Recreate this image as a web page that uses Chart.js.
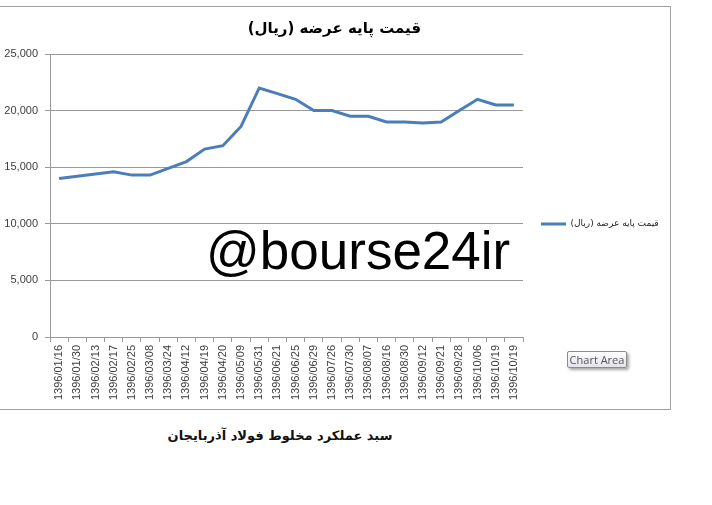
<!DOCTYPE html>
<html>
<head>
<meta charset="utf-8">
<script src="https://cdn.jsdelivr.net/npm/chart.js@4.4.0/dist/chart.umd.min.js"></script>
<style>
  body { margin: 0; background: #fff; width: 712px; height: 505px; overflow: hidden; position: relative; }
  #frame { position: absolute; left: -1px; top: 6px; width: 670px; height: 402px; border: 1px solid #a0a0a0; }
  #tag { position: absolute; left: 206px; top: 221px; font: 53px "Liberation Sans", Arial, sans-serif; line-height: 60px; color: #000; white-space: nowrap; }
  #caption { position: absolute; left: 280px; top: 428px; transform: translateX(-50%); font: bold 13px "DejaVu Sans", sans-serif; direction: rtl; white-space: nowrap; color: #111; }
  #tip { position: absolute; left: 567px; top: 351px; width: 58px; height: 15px; border: 1px solid #8c8c8c; border-radius: 2px;
         background: linear-gradient(#ffffff, #e2e2ea); box-shadow: 2px 2px 3px rgba(0,0,0,0.35);
         font: 11px "Open Sans", sans-serif; color: #555; text-align: center; line-height: 15px; }
</style>
</head>
<body>
<div id="frame"><canvas id="chart" width="670" height="402"></canvas></div>
<div id="tag">@bourse24ir</div>
<div id="caption">سبد عملکرد مخلوط فولاد آذربایجان</div>
<div id="tip">Chart Area</div>
<script>
const chartTitle = "قیمت پایه عرضه (ریال)";
const seriesName = "قیمت پایه عرضه (ریال)";

const dates = [
  "1396/01/16", "1396/01/30", "1396/02/13", "1396/02/17", "1396/02/25", "1396/03/08",
  "1396/03/24", "1396/04/12", "1396/04/19", "1396/04/20", "1396/05/09", "1396/05/31",
  "1396/06/21", "1396/06/25", "1396/06/29", "1396/07/26", "1396/07/30", "1396/08/07",
  "1396/08/16", "1396/08/30", "1396/09/12", "1396/09/21", "1396/09/28", "1396/10/06",
  "1396/10/19", "1396/10/19"
];

const prices = [
  14000, 14200, 14400, 14600, 14300, 14300,
  14900, 15500, 16600, 16900, 18600, 22000,
  21500, 21000, 20000, 20000, 19500, 19500,
  19000, 19000, 18900, 19000, 20000, 21000,
  20500, 20500
];

const yMin = 0, yMax = 25000, yStep = 5000;

const lineColor = "#4a7ebb";
const gridColor = "#9a9a9a";
const tickColor = "#404040";

const chart = new Chart(document.getElementById("chart"), {
  type: "line",
  data: {
    labels: dates,
    datasets: [{
      label: seriesName,
      data: prices,
      borderColor: lineColor,
      backgroundColor: lineColor,
      borderWidth: 3,
      pointRadius: 0,
      tension: 0
    }]
  },
  options: {
    responsive: false,
    animation: false,
    layout: { padding: { top: 0, right: 0, bottom: 0, left: 0 } },
    plugins: {
      tooltip: { enabled: false },
      title: {
        display: true,
        text: chartTitle,
        color: "#000",
        font: { family: "DejaVu Sans", size: 15, weight: "bold" },
        padding: { top: 13, bottom: 16 }
      },
      legend: {
        position: "right",
        title: { display: true, text: " ", padding: { top: 0, bottom: 20 }, font: { size: 10 } },
        labels: {
          boxWidth: 25,
          boxHeight: 0,
          padding: 18,
          color: "#222",
          font: { family: "DejaVu Sans", size: 9 }
        }
      }
    },
    scales: {
      x: {
        offset: true,
        grid: { display: true, offset: true, drawOnChartArea: false, drawTicks: true, tickLength: 5, color: gridColor },
        border: { display: true, color: gridColor },
        ticks: {
          autoSkip: false,
          minRotation: 90,
          maxRotation: 90,
          padding: 3,
          color: tickColor,
          font: { family: "Liberation Sans", size: 11 }
        },
        afterFit: (scale) => { scale.height = 72; }
      },
      y: {
        min: yMin,
        max: yMax,
        grid: { color: gridColor, tickLength: 5 },
        border: { display: true, color: gridColor },
        ticks: {
          stepSize: yStep,
          padding: 7,
          color: tickColor,
          font: { family: "Liberation Sans", size: 11 }
        },
        afterFit: (scale) => { scale.width = 50; }
      }
    }
  }
});

// push the legend in so the plot ends where the reference does
const shift = chart.chartArea.right - 523;
chart.options.layout.padding.right += shift;
chart.update();
</script>
</body>
</html>
